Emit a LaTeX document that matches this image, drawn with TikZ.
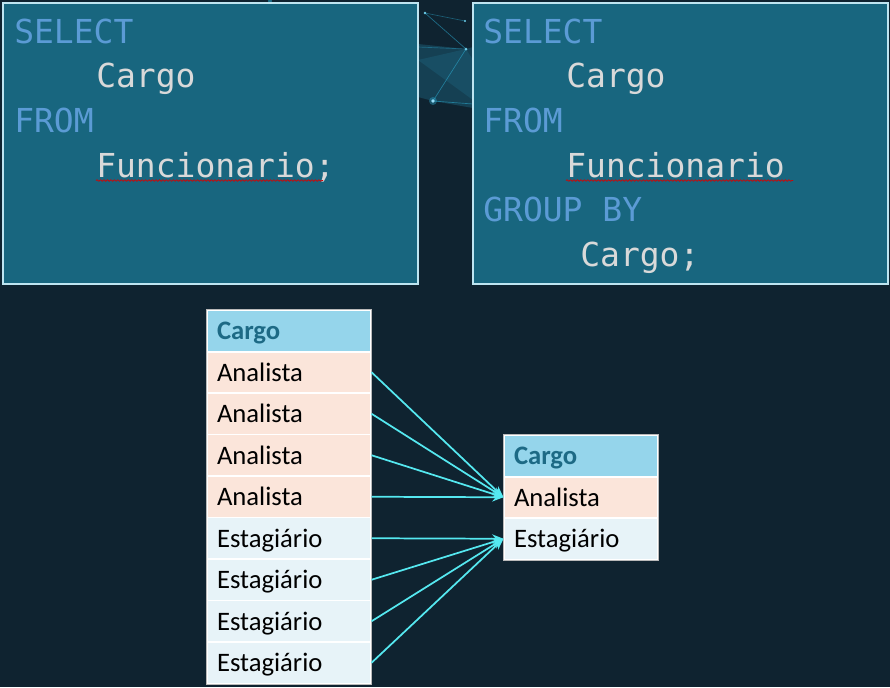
\documentclass[tikz,border=0pt]{standalone}
\usepackage{fontspec}
\setmonofont{DejaVu Sans Mono}
\newfontfamily\calibri{Carlito}
\usetikzlibrary{arrows.meta,decorations.pathmorphing}
\definecolor{bg}{HTML}{0F2330}
\definecolor{boxfill}{HTML}{18667F}
\definecolor{boxline}{HTML}{BEE5F1}
\definecolor{kw}{HTML}{5B9BD5}
\definecolor{ident}{HTML}{D9D9D9}
\definecolor{hdr}{HTML}{95D5EB}
\definecolor{hdrtext}{HTML}{1D6A85}
\definecolor{rowa}{HTML}{FBE5DA}
\definecolor{rowe}{HTML}{E7F3F8}
\definecolor{arrowc}{HTML}{55E8F0}
\definecolor{netc}{HTML}{2FB8E0}
\begin{document}
\begin{tikzpicture}[x=0.75pt,y=-0.75pt,
  codebox/.style={draw=boxline, line width=1.5pt, fill=boxfill},
  kwtext/.style={anchor=base west, inner sep=0pt, text=kw, font=\ttfamily\fontsize{24.75}{30}\selectfont},
  idtext/.style={kwtext, text=ident},
  squiggle/.style={draw=red!85!black, line width=0.5pt, decorate, decoration={snake, amplitude=0.6pt, segment length=2.6pt}},
  cellbase/.style={draw=white, line width=0.8pt, minimum height=31.1pt, inner xsep=7.5pt, inner ysep=0pt,
     align=left, text height=14.6pt, text depth=1.4pt, anchor=center, text=black,
     font=\calibri\fontsize{20}{23}\selectfont},
  lcell/.style={cellbase, minimum width=123pt, text width=108pt},
  rcell/.style={cellbase, minimum width=115.5pt, text width=100.5pt},
  hdrcell/.style={fill=hdr, text=hdrtext, font=\calibri\bfseries\fontsize{20}{23}\selectfont},
  arow/.style={fill=rowa},
  erow/.style={fill=rowe},
  tableframe/.style={draw=gray!55, line width=0.6pt},
  conn/.style={draw=arrowc, line width=1.3pt, -{Stealth[length=8.5pt,width=6.5pt]}}
]
\useasboundingbox (0,0) rectangle (890,687);
\fill[bg] (0,0) rectangle (890,687);

% background network decoration
\fill[netc, opacity=0.20] (418,44) -- (466,49) -- (473,47) -- (473,108) -- (433,101) -- (418,97) -- cycle;
\fill[netc, opacity=0.12] (418,60) -- (466,49) -- (473,60) -- (473,100) -- cycle;
\draw[netc, opacity=0.5, line width=0.5pt] (425,13) -- (466,49) -- (433,101) -- (473,104);
\draw[netc, opacity=0.4, line width=0.5pt] (425,13) -- (465,21);
\draw[netc, opacity=0.35, line width=0.5pt] (418,47) -- (466,49);
\fill[netc, opacity=0.35] (433,101) circle (4);
\fill[cyan!40!white] (433,101) circle (1.8);
\fill[netc!70!white] (425,13) circle (1.4);
\fill[netc!70!white] (465,21) circle (1.1);
\fill[netc!70!white] (466,49) circle (1.5);
\fill[netc, opacity=0.5] (270,1) circle (2);

% code boxes
\draw[codebox] (3,3) rectangle (418,284);
\draw[codebox] (473,3) rectangle (888,284);

\node[kwtext] (s1) at (14,43) {SELECT};
\node[idtext] (c1) at (96,87) {Cargo};
\node[kwtext] (f1) at (14,132) {FROM};
\node[idtext] (t1) at (96,177) {Funcionario;};
\draw[squiggle] (96,180.5) -- (323,180.5);

\node[kwtext] (s2) at (483,43) {SELECT};
\node[idtext] (c2) at (566,87) {Cargo};
\node[kwtext] (f2) at (483,132) {FROM};
\node[idtext] (t2) at (566,177) {Funcionario};
\draw[squiggle] (566,180.5) -- (793,180.5);
\node[kwtext] (g2) at (483,221) {GROUP BY};
\node[idtext] (c3) at (580,266) {Cargo;};

% left table
\node[lcell, hdrcell] (lh) at (289,330.75) {Cargo};
\node[lcell, arow] (l1) at (289,372.25) {Analista};
\node[lcell, arow] (l2) at (289,413.75) {Analista};
\node[lcell, arow] (l3) at (289,455.25) {Analista};
\node[lcell, arow] (l4) at (289,496.75) {Analista};
\node[lcell, erow] (l5) at (289,538.25) {Estagiário};
\node[lcell, erow] (l6) at (289,579.75) {Estagiário};
\node[lcell, erow] (l7) at (289,621.25) {Estagiário};
\node[lcell, erow] (l8) at (289,662.75) {Estagiário};
\draw[white, line width=1.6pt] (lh.south west) -- (lh.south east);
\draw[tableframe] (lh.north west) rectangle (l8.south east);

% right table
\node[rcell, hdrcell] (rh) at (581,455.75) {Cargo};
\node[rcell, arow] (r1) at (581,497.25) {Analista};
\node[rcell, erow] (r2) at (581,538.75) {Estagiário};
\draw[white, line width=1.6pt] (rh.south west) -- (rh.south east);
\draw[tableframe] (rh.north west) rectangle (r2.south east);

% connectors
\draw[conn] (l1.east) -- (r1.west);
\draw[conn] (l2.east) -- (r1.west);
\draw[conn] (l3.east) -- (r1.west);
\draw[conn] (l4.east) -- (r1.west);
\draw[conn] (l5.east) -- (r2.west);
\draw[conn] (l6.east) -- (r2.west);
\draw[conn] (l7.east) -- (r2.west);
\draw[conn] (l8.east) -- (r2.west);
\end{tikzpicture}
\end{document}
